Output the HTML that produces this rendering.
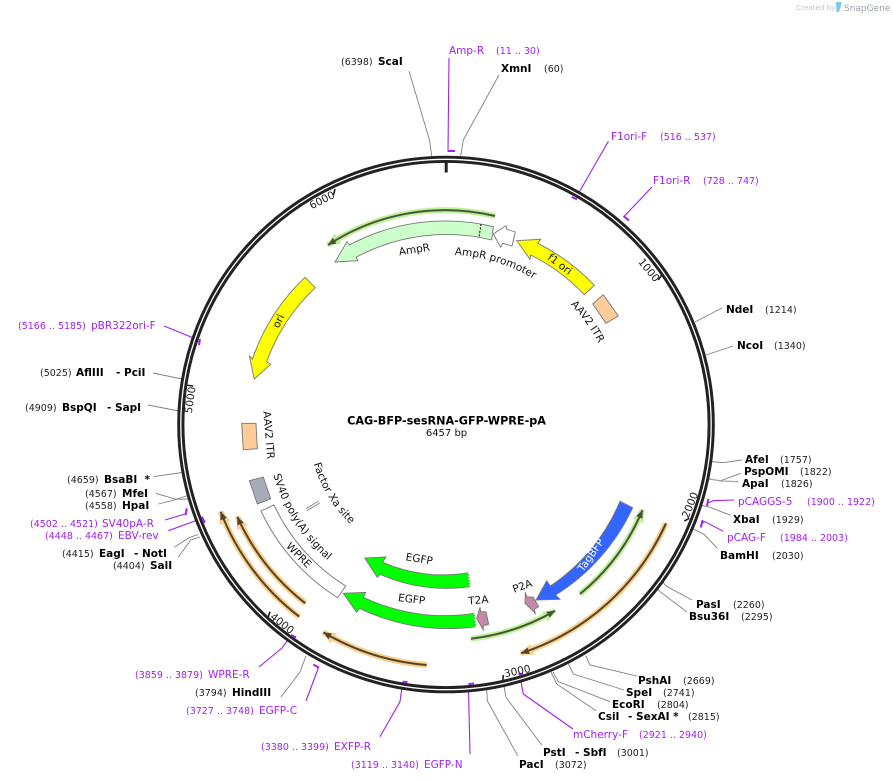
<!DOCTYPE html>
<html>
<head>
<meta charset="utf-8">
<style>
html,body{margin:0;padding:0;background:#fff;width:893px;height:781px;overflow:hidden}
svg{display:block}
text{font-family:"DejaVu Sans","Liberation Sans",sans-serif;font-size:10.5px;fill:#111}
.b{font-weight:bold;fill:#000}
.n{font-size:9.5px;fill:#222}
.t{font-size:10.5px;fill:#222}
.p{fill:#a020f0}
.q{font-size:9.5px;fill:#a020f0}
.g{fill:none;stroke:#808080;stroke-width:.9}
.v{fill:none;stroke:#a020f0;stroke-width:1.1}
.m{fill:none;stroke:#a020f0;stroke-width:2}
.f{stroke:#777;stroke-width:.9}
.c{text-anchor:middle}
</style>
</head>
<body>
<svg width="893" height="781" viewBox="0 0 893 781" xmlns="http://www.w3.org/2000/svg">
<defs>
<marker id="hg" markerUnits="userSpaceOnUse" markerWidth="20" markerHeight="20" refX="12" refY="10" orient="auto"><path d="M0,4 L13,10 L0,16 Z" fill="#bdf29a"/></marker>
<marker id="ho" markerUnits="userSpaceOnUse" markerWidth="20" markerHeight="20" refX="12" refY="10" orient="auto"><path d="M0,4 L13,10 L0,16 Z" fill="#fcd088"/></marker>
<marker id="cg" markerUnits="userSpaceOnUse" markerWidth="20" markerHeight="20" refX="10" refY="10" orient="auto"><path d="M2,6.5 L10,10 L2,13.5 Z" fill="#4a5238"/></marker>
<marker id="co" markerUnits="userSpaceOnUse" markerWidth="20" markerHeight="20" refX="10" refY="10" orient="auto"><path d="M2,6.5 L10,10 L2,13.5 Z" fill="#504430"/></marker>
<path id="t1" d="M407.8,258.9 A170,170 0 0 1 570.3,308.6"/>
<path id="t2" d="M516.4,266.5 A173,173 0 0 1 618,406.4"/>
<path id="t3" d="M266.2,432.7 A180,180 0 0 0 363.2,584.3"/>
<path id="t4" d="M308,427.9 A138,138 0 0 0 379.9,545.7"/>
</defs>

<!-- leaders gray -->
<path class="g" d="M409,71 L429.5,140 L431.7,156"/>
<path class="g" d="M499,75 L463.3,140 L460.7,156"/>
<path class="g" d="M722,308 L695,322"/>
<path class="g" d="M733,346 L706,355"/>
<path class="g" d="M741.7,460 L723.3,462.7 L711,461.5"/>
<path class="g" d="M740.7,473.3 L720.7,480.7 L708,479"/>
<path d="M738.3,481.7 L720,481 L708,478.5" fill="none" stroke="#aaa" stroke-width="1.3"/>
<path class="g" d="M730.7,515.3 L708.3,506.7 L701,505.5"/>
<path class="g" d="M717.3,548.3 L704,534.3 L693,529"/>
<path class="g" d="M692,600 L666,586 L662,581"/>
<path class="g" d="M687,612 L660,591.7 L656,587"/>
<path class="g" d="M636.7,676 L590,665 L585.7,655.7"/>
<path class="g" d="M624,690 L573.3,674 L568,663"/>
<path class="g" d="M610,701.7 L558.3,681.7 L553,672"/>
<path class="g" d="M596,710.7 L556.7,684 L551,672"/>
<path class="g" d="M541.7,745 L506,697.3 L504,686"/>
<path class="g" d="M517.7,755.7 L487.3,700.7 L486.7,689"/>
<path class="g" d="M281,697 L300,672 L306,656"/>
<path class="g" d="M153,373 L182,379"/>
<path class="g" d="M148,405 L179,411"/>
<path class="g" d="M153.3,476.7 L182,472.5"/>
<path class="g" d="M155.7,493.3 L176,499.3 L188,495.5"/>
<path class="g" d="M158.3,504 L176.7,499.3 L188,499"/>
<path class="g" d="M174.3,547.3 L189,537.7 L198,534.5"/>
<path class="g" d="M178.3,557.3 L190.7,540 L200,537"/>

<!-- leaders purple -->
<path class="v" d="M449,58 L448,151"/>
<path class="v" d="M608.5,141 L577,196"/>
<path class="v" d="M652,187 L623.5,217"/>
<path class="v" d="M734,500 L713.3,500.7 L708,503"/>
<path class="v" d="M723.3,531.3 L705,521.7 L702,523"/>
<path class="v" d="M573,729 L523.3,694 L520,676"/>
<path class="v" d="M470,754 L468.5,690 L468.3,685"/>
<path class="v" d="M380,736.7 L400,701.7 L402.7,682"/>
<path class="v" d="M306,701 L318.3,668"/>
<path class="v" d="M259,667 L281.7,648.3 L291,636"/>
<path class="v" d="M164,326 L191.7,337.3 L199,342"/>
<path class="v" d="M165,520 L185,514"/>
<path class="v" d="M168.3,530.7 L195,521 L203,519"/>

<!-- ring -->
<circle cx="446" cy="424.5" r="265.2" fill="none" stroke="#222" stroke-width="7.2"/>
<circle cx="446" cy="424.5" r="265.2" fill="none" stroke="#fff" stroke-width="1.3"/>

<!-- primer marks -->
<path class="m" d="M447.7,151 L455,151"/>
<path class="m" d="M571.7,197 L577,199.3"/>
<path class="m" d="M623.5,216 L629,220.5"/>
<path class="m" d="M708.3,499 L707,506"/>
<path class="m" d="M702.7,520 L700.7,527.5"/>
<path class="m" d="M518.5,674.5 L523,673.5"/>
<path class="m" d="M468.3,684.3 L474,683.3"/>
<path class="m" d="M402.7,681.7 L407.5,682"/>
<path class="m" d="M313.3,664.5 L319,667.7"/>
<path class="m" d="M290.7,635 L296,637.3"/>
<path class="m" d="M200,339 L199,345"/>
<path class="m" d="M186.7,508.3 L185.7,515"/>
<path class="m" d="M201.7,516.7 L205,522.7"/>

<!-- ticks -->
<path d="M446.2,160 V172.5" stroke="#222" stroke-width="3"/>
<path d="M661.7,275 L658.3,280" stroke="#222" stroke-width="1.6"/>
<path d="M684.3,521 L689.3,518.3" stroke="#222" stroke-width="1.6"/>
<path d="M503.3,675 L502.7,681.7" stroke="#222" stroke-width="1.6"/>
<path d="M267.7,618.3 L270,611.7" stroke="#222" stroke-width="1.6"/>
<path d="M185,385 L193.3,386" stroke="#222" stroke-width="1.6"/>
<path d="M335,189 L333.5,195" stroke="#222" stroke-width="1.6"/>
<text class="t c" transform="translate(649,270) rotate(51)" dy=".35em">1000</text>
<text class="t c" transform="translate(690,505) rotate(-68)" dy=".35em">2000</text>
<text class="t c" transform="translate(517.3,671) rotate(-12)" dy=".35em">3000</text>
<text class="t c" transform="translate(282.3,623.3) rotate(38)" dy=".35em">4000</text>
<text class="t c" transform="translate(190,400) rotate(-82)" dy=".35em">5000</text>
<text class="t c" transform="translate(322,200) rotate(-27)" dy=".35em">6000</text>

<!-- primers -->
<g fill="none">
<path d="M495,216 A214.5,214.5 0 0 0 328,245" stroke="#bdf29a" stroke-width="6" marker-end="url(#hg)"/>
<path d="M495,216 A214.5,214.5 0 0 0 328,245" stroke="#4a5238" stroke-width="2" marker-end="url(#cg)"/>
<path d="M580,594 A215,215 0 0 0 642.5,510" stroke="#bdf29a" stroke-width="6" marker-end="url(#hg)"/>
<path d="M580,594 A215,215 0 0 0 642.5,510" stroke="#4a5238" stroke-width="2" marker-end="url(#cg)"/>
<path d="M471,638.7 A215.5,215.5 0 0 0 555,610.7" stroke="#bdf29a" stroke-width="6" marker-end="url(#hg)"/>
<path d="M471,638.7 A215.5,215.5 0 0 0 555,610.7" stroke="#4a5238" stroke-width="2" marker-end="url(#cg)"/>
<path d="M666,523.3 A241,241 0 0 1 521,653.3" stroke="#fcd088" stroke-width="6" marker-end="url(#ho)"/>
<path d="M666,523.3 A241,241 0 0 1 521,653.3" stroke="#504430" stroke-width="2" marker-end="url(#co)"/>
<path d="M426.7,665 A241.3,241.3 0 0 1 323.3,632.3" stroke="#fcd088" stroke-width="6" marker-end="url(#ho)"/>
<path d="M426.7,665 A241.3,241.3 0 0 1 323.3,632.3" stroke="#504430" stroke-width="2" marker-end="url(#co)"/>
<path d="M299.3,616.7 A241.5,241.5 0 0 1 220.7,511.7" stroke="#fcd088" stroke-width="6" marker-end="url(#ho)"/>
<path d="M299.3,616.7 A241.5,241.5 0 0 1 220.7,511.7" stroke="#504430" stroke-width="2" marker-end="url(#co)"/>
<path d="M305.3,603.3 A228,228 0 0 1 237.3,516.7" stroke="#fcd088" stroke-width="6" marker-end="url(#ho)"/>
<path d="M305.3,603.3 A228,228 0 0 1 237.3,516.7" stroke="#504430" stroke-width="2" marker-end="url(#co)"/>
</g>

<!-- features -->
<path class="f" fill="#ccffcc" d="M493.3,226.7 A203,203 0 0 0 349.3,245 L347,241.7 L335,262 L358,260.7 L356,257.3 A190,190 0 0 1 491.7,240 Z"/>
<path d="M481,224 L479,237.3" stroke="#000" stroke-width="1" stroke-dasharray="2,1.5" fill="none"/>
<path class="f" fill="#fff" d="M493.3,234 L506,225.7 L506.7,229.3 L515.3,232 L512,246 L502.7,243.3 L500.7,247.3 Z"/>
<path class="f" fill="#ffff00" d="M530.7,255 A189.5,189.5 0 0 1 584.3,294.7 L594.3,285.3 A203,203 0 0 0 537.7,243.3 L540.7,239.3 L516.7,240.7 L530,259.3 Z"/>
<path class="f" fill="#ffcc99" d="M603.3,294.7 L618.3,316 L606,323.3 L592.7,304 Z"/>
<path class="f" fill="#ffff00" d="M305,277.3 A204,204 0 0 0 252.3,359.3 L249.3,355.7 L254.3,379 L270.7,364.3 L266.7,361.7 A190,190 0 0 1 315.3,287.7 Z"/>
<path class="f" fill="#ffcc99" d="M241.7,423.3 L256,423.3 L257.3,448.7 L243.3,449.7 Z"/>
<path class="f" fill="#a6adb8" d="M249.3,480.7 L263.3,477 L270.7,498.7 L257.3,504 Z"/>
<path class="f" fill="#fff" d="M274,505 A190,190 0 0 0 345.7,586 L337.7,597.7 A204,204 0 0 1 261,511 Z"/>
<path d="M306,508.7 L318.7,501 M307,510.7 L319.7,503" stroke="#888" stroke-width="1" fill="none"/>
<path class="f" fill="#00ff00" d="M468.3,572.7 A150,150 0 0 1 382.7,562.3 L386,557 L364.7,558 L377.3,577.3 L380,574.3 A164,164 0 0 0 470,586.7 Z"/>
<path d="M468.3,572.7 L470,586.7" stroke="#fff" stroke-width="1.2" stroke-dasharray="1.5,1.5" fill="none"/>
<path class="f" fill="#00ff00" d="M474.3,613.3 A190,190 0 0 1 363.3,597.3 L365.7,592.3 L343.3,593.3 L356.7,612.3 L359.3,608.3 A204,204 0 0 0 476,626.7 Z"/>
<path d="M474.3,613.3 L476,626.7" stroke="#fff" stroke-width="1.2" stroke-dasharray="1.5,1.5" fill="none"/>
<path class="f" fill="#c48aa8" d="M480,607.3 L480.7,611.7 L486,611.7 L488.7,624.3 L483.3,625.7 L483.3,630 L476.7,618.3 Z"/>
<path class="f" fill="#c48aa8" d="M525.3,592.3 L526.7,596.7 L533.3,597.3 L538.7,606.7 L534.3,609.3 L535.3,613.3 L525,603.3 Z"/>
<path class="f" fill="#3366ff" d="M632.7,507.7 A204,204 0 0 1 555.7,595 L560,599.3 L536,600 L546.7,580.7 L550.3,586 A190,190 0 0 0 620,501.3 Z"/>

<!-- feature labels -->
<text class="c" transform="translate(414.3,249.3) rotate(-9)" dy=".35em">AmpR</text>
<text class="c" transform="translate(560,264) rotate(37)" dy=".35em">f1 ori</text>
<text class="c" transform="translate(278.3,321) rotate(-65)" dy=".35em">ori</text>
<text class="c" transform="translate(269,435) rotate(85)" dy=".35em">AAV2 ITR</text>
<text class="c" transform="translate(299,555) rotate(45)" dy=".35em">WPRE</text>
<text class="c" transform="translate(419.3,558.7) rotate(9)" dy=".35em">EGFP</text>
<text class="c" transform="translate(411.7,599) rotate(7)" dy=".35em">EGFP</text>
<text class="c" transform="translate(478.3,600) rotate(-5)" dy=".35em">T2A</text>
<text class="c" transform="translate(522.3,586) rotate(-20)" dy=".35em">P2A</text>
<text class="c" style="fill:#fff" transform="translate(590.7,555) rotate(-55)" dy=".35em">TagBFP</text>
<text class="c"><textPath href="#t1" startOffset="50%">AmpR promoter</textPath></text>
<text class="c"><textPath href="#t2" startOffset="50%">AAV2 ITR</textPath></text>
<text class="c"><textPath href="#t3" startOffset="50%">SV40 poly(A) signal</textPath></text>
<text class="c"><textPath href="#t4" startOffset="50%">Factor Xa site</textPath></text>

<!-- center -->
<text class="b c" x="446.5" y="424.5" style="font-size:11.2px">CAG-BFP-sesRNA-GFP-WPRE-pA</text>
<text class="c" x="446.5" y="436" style="font-size:10px">6457 bp</text>

<!-- top labels -->
<text class="n" x="341" y="65">(6398)</text><text class="b" x="378" y="65">ScaI</text>
<text class="p" x="449" y="54">Amp-R</text><text class="q" x="496" y="54">(11 .. 30)</text>
<text class="b" x="501" y="72">XmnI</text><text class="n" x="544" y="72">(60)</text>
<text class="p" x="611" y="140">F1ori-F</text><text class="q" x="660" y="140">(516 .. 537)</text>
<text class="p" x="653" y="184">F1ori-R</text><text class="q" x="703" y="184">(728 .. 747)</text>
<text class="b" x="726" y="313">NdeI</text><text class="n" x="765" y="313">(1214)</text>
<text class="b" x="737" y="349">NcoI</text><text class="n" x="774" y="349">(1340)</text>

<!-- right labels -->
<text class="b" x="745" y="463">AfeI</text><text class="n" x="780" y="463">(1757)</text>
<text class="b" x="744" y="475">PspOMI</text><text class="n" x="800" y="475">(1822)</text>
<text class="b" x="742" y="487">ApaI</text><text class="n" x="781" y="487">(1826)</text>
<text class="p" x="738" y="505">pCAGGS-5</text><text class="q" x="807" y="505">(1900 .. 1922)</text>
<text class="b" x="733" y="523">XbaI</text><text class="n" x="772" y="523">(1929)</text>
<text class="p" x="727" y="541">pCAG-F</text><text class="q" x="780" y="541">(1984 .. 2003)</text>
<text class="b" x="720" y="559">BamHI</text><text class="n" x="772" y="559">(2030)</text>
<text class="b" x="696" y="608">PasI</text><text class="n" x="733" y="608">(2260)</text>
<text class="b" x="689" y="620">Bsu36I</text><text class="n" x="741" y="620">(2295)</text>
<text class="b" x="638" y="684">PshAI</text><text class="n" x="683" y="684">(2669)</text>
<text class="b" x="626" y="696">SpeI</text><text class="n" x="663" y="696">(2741)</text>
<text class="b" x="612" y="708">EcoRI</text><text class="n" x="657" y="708">(2804)</text>
<text class="b" x="598" y="720">CsiI</text><text class="b" x="628" y="720">- SexAI *</text><text class="n" x="688" y="720">(2815)</text>
<text class="p" x="573" y="738">mCherry-F</text><text class="q" x="639" y="738">(2921 .. 2940)</text>
<text class="b" x="543" y="756">PstI</text><text class="b" x="575" y="756">- SbfI</text><text class="n" x="617" y="756">(3001)</text>
<text class="b" x="519" y="768">PacI</text><text class="n" x="555" y="768">(3072)</text>

<!-- bottom-left labels -->
<text class="q" x="351" y="768">(3119 .. 3140)</text><text class="p" x="424" y="768">EGFP-N</text>
<text class="q" x="261" y="750">(3380 .. 3399)</text><text class="p" x="334" y="750">EXFP-R</text>
<text class="q" x="186" y="714">(3727 .. 3748)</text><text class="p" x="259" y="714">EGFP-C</text>
<text class="n" x="195" y="696">(3794)</text><text class="b" x="232" y="696">HindIII</text>
<text class="q" x="135" y="678">(3859 .. 3879)</text><text class="p" x="208" y="678">WPRE-R</text>

<!-- left labels -->
<text class="q" x="18" y="329">(5166 .. 5185)</text><text class="p" x="91" y="329">pBR322ori-F</text>
<text class="n" x="40" y="376">(5025)</text><text class="b" x="76" y="376">AflIII</text><text class="b" x="116" y="376">- PciI</text>
<text class="n" x="25" y="411">(4909)</text><text class="b" x="62" y="411">BspQI</text><text class="b" x="107" y="411">- SapI</text>
<text class="n" x="67" y="483">(4659)</text><text class="b" x="104" y="483" xml:space="preserve">BsaBI  *</text>
<text class="n" x="85" y="497">(4567)</text><text class="b" x="122" y="497">MfeI</text>
<text class="n" x="85" y="509">(4558)</text><text class="b" x="122" y="509">HpaI</text>
<text class="q" x="30" y="527">(4502 .. 4521)</text><text class="p" x="102" y="527">SV40pA-R</text>
<text class="q" x="45" y="539">(4448 .. 4467)</text><text class="p" x="118" y="539">EBV-rev</text>
<text class="n" x="62" y="557">(4415)</text><text class="b" x="99" y="557">EagI</text><text class="b" x="134" y="557">- NotI</text>
<text class="n" x="113" y="569">(4404)</text><text class="b" x="150" y="569">SalI</text>

<!-- logo -->
<text x="796" y="10" style="font-size:7.2px;fill:#c4c4c4">Created by</text>
<path d="M836,2 H841.5 C841.5,6 840,8 839,12 H836.5 Z" fill="#7cc8f0"/>
<text x="844" y="11" style="font-size:9px;fill:#9aa0a6">SnapGene</text>
</svg>
</body>
</html>
